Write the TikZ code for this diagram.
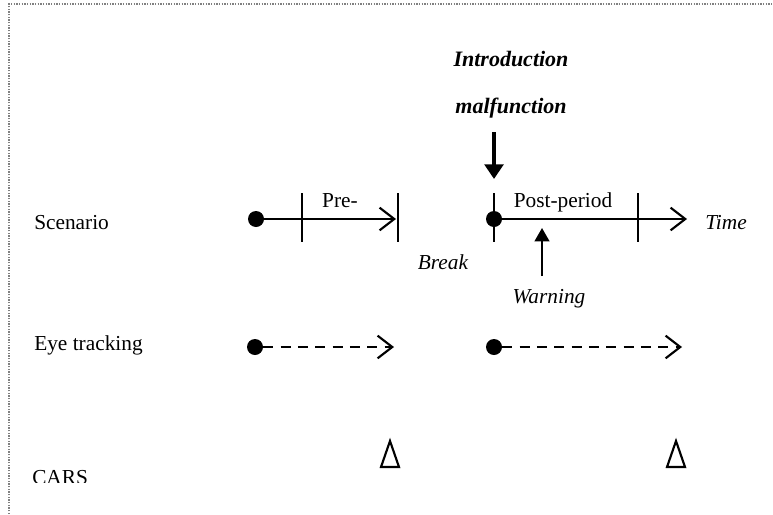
\documentclass[tikz,border=0pt]{standalone}
\usepackage{fontspec}
\setmainfont{Liberation Serif}
\usetikzlibrary{arrows.meta, positioning}
\tikzstyle{lbl} = [font=\fontsize{16pt}{19pt}\selectfont, inner sep=0pt, anchor=base west]
\tikzstyle{txt} = [font=\fontsize{16pt}{19pt}\selectfont, inner sep=0pt, anchor=base]
\tikzstyle{itxt} = [txt, font=\fontsize{16pt}{19pt}\selectfont\itshape]
\tikzstyle{headtxt} = [txt, font=\fontsize{16.5pt}{19pt}\selectfont\bfseries\itshape]
\tikzstyle{blob} = [circle, fill=black, inner sep=0pt, minimum size=12pt]
\tikzstyle{tl} = [line width=1.6pt, -{Straight Barb[length=11pt, width=17pt, line width=1.6pt]}]
\tikzstyle{el} = [tl, dash pattern=on 7.5pt off 5.5pt]
\tikzstyle{tickln} = [line width=1.6pt]
\tikzstyle{push} = [line width=3pt, -{Triangle[length=11pt, width=14pt]}]
\tikzstyle{cue} = [line width=1.6pt, -{Triangle[length=10pt, width=11pt]}]
\tikzstyle{carstri} = [line width=1.6pt, line join=miter]
\tikzstyle{frame} = [gray, line width=1pt, dash pattern=on 1pt off 1pt]

\begin{document}
\begin{tikzpicture}[x=0.75pt, y=-0.75pt]
  \useasboundingbox (0,0) rectangle (773,514);
  \draw[frame] (9,514) -- (9,4) -- (773,4);
  % ---------- row labels ----------
  \node[lbl] (lblscen) at (34,229) {Scenario};
  \node[lbl] (lbleye)  at (34,350) {Eye tracking};
  \begin{scope}
    \clip (0,0) rectangle (773,482);
    \node[lbl] (lblcars) at (32,484) {CARS};
  \end{scope}
  % ---------- headings ----------
  \node[headtxt] (intro) at (511,66)  {Introduction};
  \node[headtxt] (malf)  at (511,113) {malfunction};
  % ---------- scenario row (y=219) ----------
  \node[blob] (pre0)  at (256,219) {};
  \node[blob] (post0) at (494,219) {};
  \coordinate (preend)  at (396,219);
  \coordinate (postend) at (687,219);
  \draw[tl] (pre0.center) -- (preend);
  \draw[tl] (post0.center) -- (postend);
  \foreach \x in {302, 398, 494, 638}
    \draw[tickln] (\x,193) -- (\x,242);
  \node[txt]  (pre)  at (340,207) {Pre-};
  \node[txt]  (post) at (563,207) {Post-period};
  \node[itxt] (time) at (726,229) {Time};
  \node[itxt] (brk)  at (443,269) {Break};
  % ---------- cues ----------
  \coordinate (dropTop) at (494,132);
  \coordinate (dropEnd) at (494,179);
  \draw[push] (dropTop) -- (dropEnd);
  \node[itxt] (warn) at (549,303) {Warning};
  \coordinate (warnTop) at (542,228);
  \coordinate (warnBot) at (542,276);
  \draw[cue] (warnBot) -- (warnTop);
  % ---------- eye tracking row (y=347) ----------
  \node[blob] (eyepre)  at (255,347) {};
  \node[blob] (eyepost) at (494,347) {};
  \coordinate (eyepreend)  at (394,347);
  \coordinate (eyepostend) at (682,347);
  \draw[el] (eyepre.east) -- (eyepreend);
  \draw[el] (eyepost.east) -- (eyepostend);
  % ---------- CARS measurements ----------
  \draw[carstri] (381,467) -- (390,441) -- (399,467) -- cycle;
  \draw[carstri] (667,467) -- (676,441) -- (685,467) -- cycle;
\end{tikzpicture}
\end{document}
